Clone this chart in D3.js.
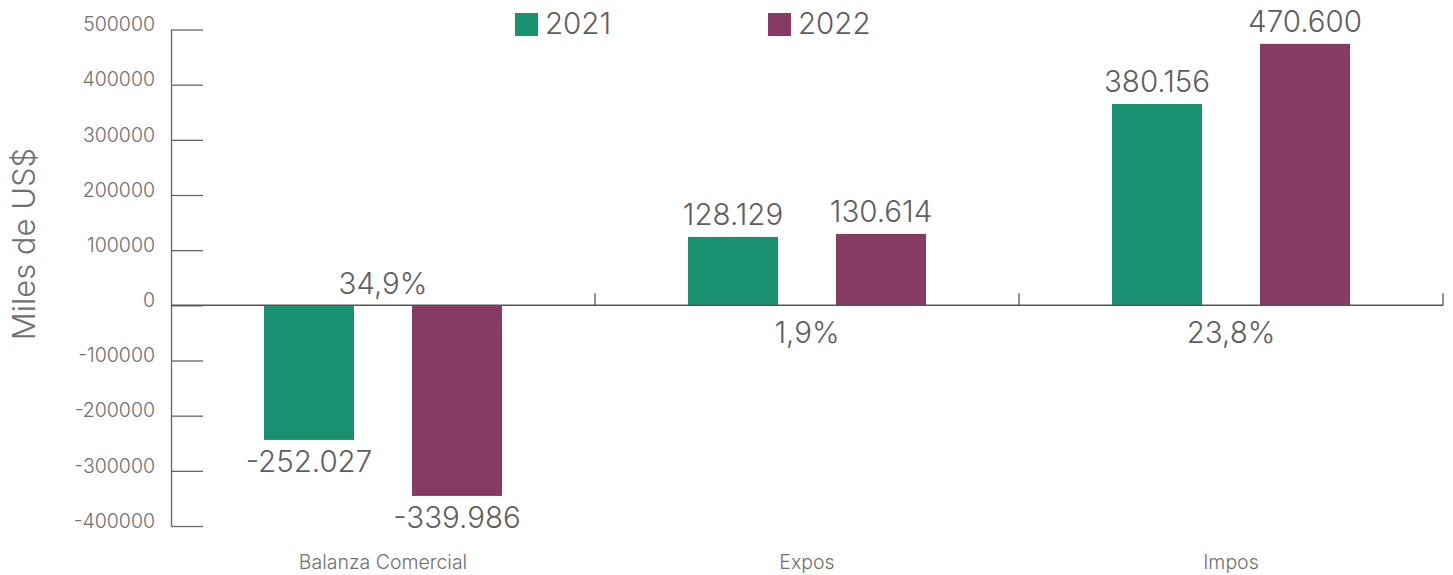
<!DOCTYPE html>
<html>
<head>
<meta charset="utf-8">
<script src="https://cdn.jsdelivr.net/npm/d3@7"></script>
<style>
  body { margin: 0; background: #fff; }
  svg { font-family: Inter, "Open Sans", sans-serif; font-weight: 300; }
</style>
</head>
<body>
<svg id="chart"></svg>
<script>
  // Data
  var categories = ['Balanza Comercial', 'Expos', 'Impos']
  var years = ['2021', '2022']
  var values2021 = [-244000, 124000, 365000]
  var values2022 = [-345500, 129500, 474000]
  var labels2021 = ['-252.027', '128.129', '380.156']
  var labels2022 = ['-339.986', '130.614', '470.600']
  var changes = ['34,9%', '1,9%', '23,8%']
  var yTicks = [-400000, -300000, -200000, -100000, 0, 100000, 200000, 300000, 400000, 500000]

  var WIDTH = 1453
  var HEIGHT = 575
  var colors = { '2021': '#1a9170', '2022': '#873b62' }
  var TEXT = '#5e5e5e'
  var TICK_TEXT = '#707070'

  var svg = d3.select('#chart').attr('width', WIDTH).attr('height', HEIGHT)

  var x0 = d3.scaleBand().domain(categories).range([171, 1443])
  var bw = x0.bandwidth()
  var x1 = d3.scaleBand().domain(years).range([bw / 2 - 119, bw / 2 + 119]).paddingInner(0.392)
  var y = d3.scaleLinear().domain([-400000, 500000]).range([526, 29.5])

  var rows = categories.map(function (c, i) {
    return {
      cat: c,
      change: changes[i],
      bars: [
        { year: '2021', value: values2021[i], label: labels2021[i] },
        { year: '2022', value: values2022[i], label: labels2022[i] }
      ]
    }
  })

  // y axis (ticks point inwards)
  var yAxis = svg.append('g')
    .attr('transform', 'translate(171,0)')
    .call(d3.axisLeft(y).tickValues(yTicks).tickSize(-32).tickSizeOuter(0).tickPadding(16)
      .tickFormat(function (d) { return String(d) }))
  yAxis.select('.domain').attr('stroke', '#666').attr('stroke-width', 1.3)
  yAxis.selectAll('.tick line').attr('stroke', '#666').attr('stroke-width', 1.3)
  yAxis.selectAll('.tick text')
    .attr('fill', TICK_TEXT)
    .attr('dy', '0.06em')
    .style('font-size', '19.5px')
    .style('font-family', 'Inter, sans-serif')
    .style('font-weight', 300)

  svg.append('text')
    .attr('transform', 'translate(35,' + 244 + ') rotate(-90)')
    .attr('text-anchor', 'middle')
    .attr('fill', TICK_TEXT)
    .style('font-size', '31px')
    .text('Miles de US$')

  // bars
  var groups = svg.append('g').selectAll('g')
    .data(rows)
    .enter().append('g')
    .attr('transform', function (d) { return 'translate(' + x0(d.cat) + ',0)' })

  groups.selectAll('rect')
    .data(function (d) { return d.bars })
    .enter().append('rect')
    .attr('x', function (d) { return x1(d.year) })
    .attr('width', x1.bandwidth())
    .attr('y', function (d) { return y(Math.max(0, d.value)) })
    .attr('height', function (d) { return Math.abs(y(d.value) - y(0)) })
    .attr('fill', function (d) { return colors[d.year] })

  groups.selectAll('text.val')
    .data(function (d) { return d.bars })
    .enter().append('text')
    .attr('class', 'val')
    .attr('x', function (d) { return x1(d.year) + x1.bandwidth() / 2 })
    .attr('y', function (d) { return d.value >= 0 ? y(d.value) - 12 : y(d.value) + 32 })
    .attr('text-anchor', 'middle')
    .attr('fill', TEXT)
    .style('font-size', '29.5px')
    .text(function (d) { return d.label })

  groups.append('text')
    .attr('x', bw / 2)
    .attr('y', function (d) { return d.bars[0].value < 0 ? y(0) - 11 : y(0) + 38 })
    .attr('text-anchor', 'middle')
    .attr('fill', TEXT)
    .style('font-size', '29.5px')
    .text(function (d) { return d.change })

  // x axis at zero
  var xAxis = svg.append('g')
  xAxis.append('line')
    .attr('x1', 171).attr('x2', 1443)
    .attr('y1', y(0)).attr('y2', y(0))
    .attr('stroke', '#555').attr('stroke-width', 1.5)
  xAxis.selectAll('line.sep')
    .data(categories)
    .enter().append('line')
    .attr('class', 'sep')
    .attr('x1', function (d) { return x0(d) + bw }).attr('x2', function (d) { return x0(d) + bw })
    .attr('y1', y(0) - 12).attr('y2', y(0))
    .attr('stroke', '#555').attr('stroke-width', 1.3)
  xAxis.selectAll('text')
    .data(categories)
    .enter().append('text')
    .attr('x', function (d) { return x0(d) + bw / 2 })
    .attr('y', 569)
    .attr('text-anchor', 'middle')
    .attr('fill', TICK_TEXT)
    .style('font-size', '19.5px')
    .text(function (d) { return d })

  // legend
  var legendX = { '2021': 515, '2022': 768 }
  var legend = svg.append('g').selectAll('g')
    .data(years)
    .enter().append('g')
    .attr('transform', function (d) { return 'translate(' + legendX[d] + ',13)' })
  legend.append('rect')
    .attr('width', 23).attr('height', 23)
    .attr('fill', function (d) { return colors[d] })
  legend.append('text')
    .attr('x', 30).attr('y', 20.5)
    .attr('fill', TEXT)
    .style('font-size', '29.5px')
    .text(function (d) { return d })
</script>
</body>
</html>
